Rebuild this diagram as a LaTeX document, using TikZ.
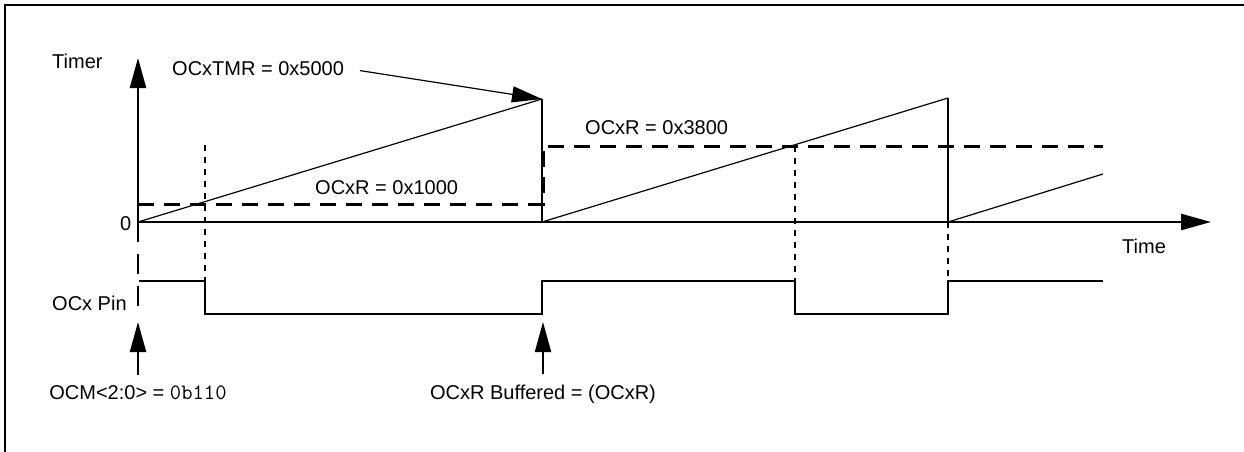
\documentclass[tikz,border=0pt]{standalone}
\usepackage{fontspec}
\setmainfont{Liberation Sans}
\usetikzlibrary{positioning}
\usetikzlibrary{arrows.meta}

\newcommand{\bits}[1]{{\fontsize{22}{24}\ttfamily #1}}

\begin{document}
\begin{tikzpicture}[x=1pt,y=-1pt,>={Triangle[length=30pt,width=16pt]},
  lbl/.style={font=\fontsize{20}{24}\selectfont,inner sep=0pt},
  axis/.style={line width=2.4pt},
  ramp/.style={line width=1.2pt},
  wave/.style={line width=2pt},
  level/.style={line width=3pt,dash pattern=on 16pt off 10pt},
  guide/.style={line width=2pt,dash pattern=on 6pt off 6pt}]

  \useasboundingbox (0,0) rectangle (1244,452);
  \draw[line width=2pt] (5,452) |- (1244,5);

  % timer axes
  \coordinate (o) at (138,222);
  \coordinate (ytop) at (138,58);
  \coordinate (xend) at (1211,222);
  \draw[axis,->] (o) -- (ytop);
  \draw[axis,->] (o) -- (xend);

  % ramps
  \coordinate (p1) at (542,99);
  \coordinate (r1) at (542,222);
  \coordinate (p2) at (948,98);
  \coordinate (r2) at (948,222);
  \coordinate (p3) at (1103,174);
  \draw[ramp] (o) -- (p1);
  \draw[wave] (p1) -- (r1);
  \draw[ramp] (r1) -- (p2);
  \draw[wave] (p2) -- (r2);
  \draw[ramp] (r2) -- (p3);

  % compare levels
  \draw[level] (138,204) -- (543,204) -- (543,146) -- (1103,146);

  % guides
  \draw[guide] (205,145) -- (205,281);
  \draw[guide] (795,146) -- (795,281);
  \draw[guide] (948,222) -- (948,281);
  \draw[line width=2.4pt,dash pattern=on 20pt off 12pt] (138,222) -- (138,317);

  % OCx pin
  \draw[wave] (139,281) -| (205,314) -| (542,281) -| (795,314) -| (948,281) -- (1103,281);

  % labels
  \node[lbl,anchor=base west] (timer) at (52,69) {Timer};
  \node[lbl,anchor=base west] (zero) at (120,230) {0};
  \node[lbl,anchor=base west] (time) at (1122,253) {Time};
  \node[lbl,anchor=base west] (pin) at (52,310) {OCx Pin};
  \node[lbl,anchor=base west] (tmr) at (172,75) {OCxTMR = 0x5000};
  \node[lbl,anchor=base west] (r1000) at (315,194) {OCxR = 0x1000};
  \node[lbl,anchor=base west] (r3800) at (585,134) {OCxR = 0x3800};
  \node[lbl,anchor=base] (ocm) at (138,399) {OCM<2:0> = \bits{0b110}};
  \node[lbl,anchor=base] (buf) at (543,399) {OCxR Buffered = (OCxR)};

  \coordinate (set) at (138,322);
  \coordinate (load) at (543,322);
  \draw[->,ramp,shorten <=16pt] (tmr.east) -- (p1);
  \draw[->,wave,shorten <=10pt] (ocm.north) -- (set);
  \draw[->,wave,shorten <=10pt] (buf.north) -- (load);
\end{tikzpicture}
\end{document}
